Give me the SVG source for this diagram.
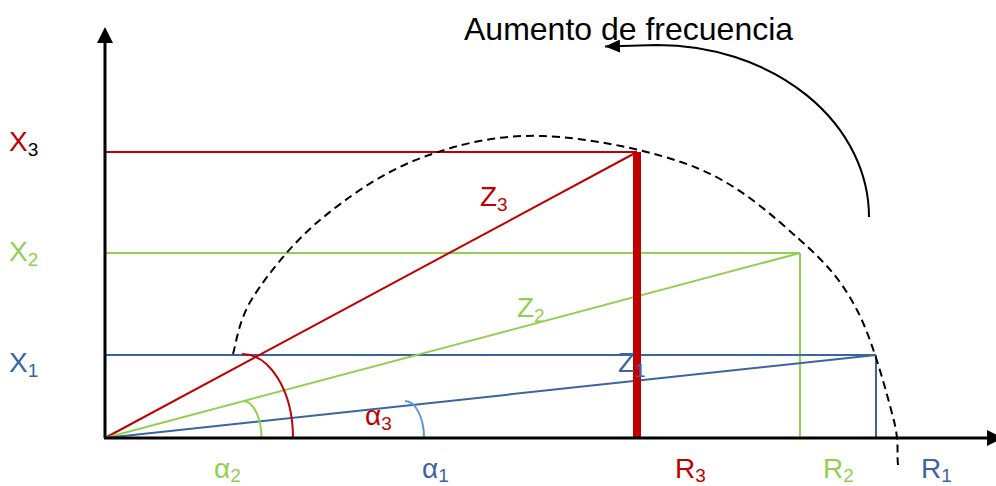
<svg xmlns="http://www.w3.org/2000/svg" width="996" height="486" viewBox="0 0 996 486">
<defs>
<style>
text{font-family:"Liberation Sans",Arial,sans-serif;}
.lbl{font-size:28px;}
.sub{font-size:19px;}
.red{fill:#C00000;}
.grn{fill:#92D050;}
.blu{fill:#3B64A0;}
.lr{stroke:#C00000;stroke-width:2;fill:none;}
.lg{stroke:#92D050;stroke-width:2;fill:none;}
.lb{stroke:#3B64A0;stroke-width:2;fill:none;}
.axis{stroke:#000;stroke-width:3;fill:none;}
</style>
<marker id="ah" viewBox="0 0 15 13" refX="15" refY="6.5" markerWidth="15" markerHeight="13" markerUnits="userSpaceOnUse" orient="auto">
<path d="M0,0 L15,6.5 L0,13 Z" fill="#000"/>
</marker>
</defs>
<rect width="996" height="486" fill="#fff"/>

<g id="connectors">
  <line class="lr" x1="105" y1="152" x2="637" y2="152"/>
  <line class="lg" x1="105" y1="253" x2="800" y2="253"/>
  <line class="lg" x1="800" y1="253" x2="800" y2="438"/>
  <line class="lb" x1="105" y1="355" x2="876" y2="355"/>
  <line class="lb" x1="876" y1="355" x2="876" y2="438"/>
  <line class="lr" x1="105" y1="438" x2="637" y2="152"/>
  <line class="lg" x1="105" y1="438" x2="800" y2="253"/>
  <line class="lb" x1="105" y1="438" x2="876" y2="355"/>
  <line x1="637" y1="152" x2="637" y2="438" stroke="#C00000" stroke-width="8"/>
  <path class="lr" d="M242,354 A51,84 0 0 1 293,438"/>
  <path class="lg" d="M243,401 A18.5,37 0 0 1 261.5,438"/>
  <path d="M405,401 A19,37 0 0 1 424,438" stroke="#5B9BD5" stroke-width="2" fill="none"/>
  <path d="M233,354 C236,344 238.8,319 253.3,296.7 C267.8,274.4 292.2,243.1 320,220 C347.8,196.9 382.8,172.3 420,158.3 C457.2,144.3 496.8,134.4 543,136 C589.2,137.6 654.2,150.7 697,168 C739.8,185.3 773.3,216.3 800,240 C826.7,263.7 841.5,280.5 857,310 C872.5,339.5 886.2,391.2 893,417 C899.8,442.8 896.5,451 898,465" stroke="#000" stroke-width="2" fill="none" stroke-dasharray="8 5"/>
  <path d="M869,217 A212,172 0 0 0 657,45 L605,46.5" stroke="#000" stroke-width="2" fill="none" marker-end="url(#ah)"/>
  <line class="axis" x1="105" y1="438" x2="105" y2="40"/>
  <path d="M105,27 L113,43 L97,43 Z" fill="#000"/>
  <line class="axis" x1="104" y1="438" x2="990" y2="438"/>
  <path d="M1003,438 L987,430 L987,446 Z" fill="#000"/>
</g>

<g id="title"><text x="464" y="40" font-size="32" fill="#000">Aumento de frecuencia</text></g>

<g id="X3"><text x="9" y="151" class="lbl"><tspan class="red">X</tspan><tspan class="sub" dy="5" fill="#000">3</tspan></text></g>
<g id="X2"><text x="9" y="261" class="lbl grn">X<tspan class="sub" dy="5">2</tspan></text></g>
<g id="X1"><text x="9" y="372" class="lbl blu">X<tspan class="sub" dy="5">1</tspan></text></g>

<g id="Z3"><text x="480" y="206" class="lbl red">Z<tspan class="sub" dy="5">3</tspan></text></g>
<g id="Z2"><text x="517" y="317" class="lbl grn">Z<tspan class="sub" dy="5">2</tspan></text></g>
<g id="Z1"><text x="618" y="372" class="lbl blu">Z<tspan class="sub" dy="5">1</tspan></text></g>

<g id="a3"><text x="365" y="425" class="lbl red">α<tspan class="sub" dy="5">3</tspan></text></g>
<g id="a2"><text x="214" y="478" class="lbl grn">α<tspan class="sub" dy="4">2</tspan></text></g>
<g id="a1"><text x="422" y="478" class="lbl blu">α<tspan class="sub" dy="4">1</tspan></text></g>

<g id="R3"><text x="675" y="478" class="lbl red">R<tspan class="sub" dy="4">3</tspan></text></g>
<g id="R2"><text x="823" y="478" class="lbl grn">R<tspan class="sub" dy="4">2</tspan></text></g>
<g id="R1"><text x="921" y="478" class="lbl blu">R<tspan class="sub" dy="4">1</tspan></text></g>
</svg>
